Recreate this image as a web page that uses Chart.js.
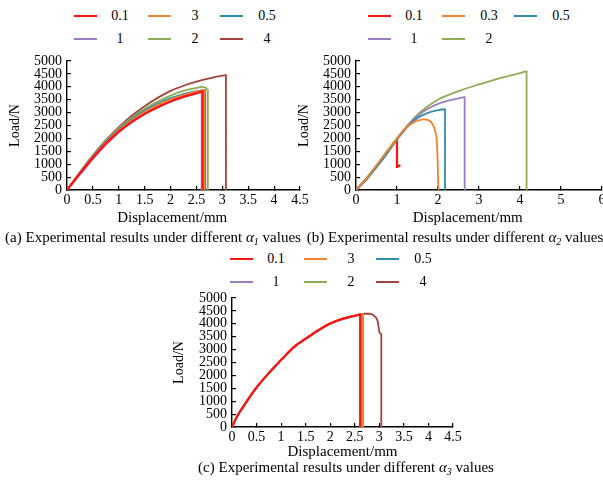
<!DOCTYPE html>
<html>
<head>
<meta charset="utf-8">
<script src="https://cdn.jsdelivr.net/npm/chart.js@4"></script>
<style>
  html, body { margin: 0; padding: 0; background: #fff; }
  #page { position: relative; width: 603px; height: 480px; overflow: hidden; font-family: "Liberation Serif", "Times New Roman", serif; color: #000; }
  canvas { position: absolute; }
  .leg-line { position: absolute; width: 23px; height: 2px; }
  .leg-text { position: absolute; font-size: 14px; line-height: 16px; transform: translateX(-50%); white-space: nowrap; }
  .caption { position: absolute; font-size: 15px; line-height: 18px; transform: translateX(-50%); white-space: nowrap; }
  .caption sub { font-size: 10px; vertical-align: -3px; line-height: 0; }
</style>
</head>
<body>
<div id="page">
  <canvas id="chart-a" width="312" height="178" style="left:0px; top:50px;"></canvas>
  <canvas id="chart-b" width="309" height="178" style="left:294px; top:50px;"></canvas>
  <canvas id="chart-c" width="300" height="175" style="left:165px; top:287px;"></canvas>
  <div id="legends"></div>
  <div class="caption" style="left:153px; top:228px;">(a) Experimental results under different <i>α<sub>1</sub></i> values</div>
  <div class="caption" style="left:455px; top:228px;">(b) Experimental results under different <i>α<sub>2</sub></i> values</div>
  <div class="caption" style="left:346px; top:458px;">(c) Experimental results under different <i>α<sub>3</sub></i> values</div>
</div>
<script>
// --- Data (displacement mm, load N) ---
const LOAD_TICK_MAX = 5000;
const LOAD_TICK_STEP = 500;

// (a) alpha1
const A1_LABELS = ['0.1', '3', '0.5', '1', '2', '4'];
const A1_01 = [[0,0],[0.25,640],[0.5,1250],[0.75,1800],[1,2260],[1.25,2640],[1.5,2950],[1.75,3210],[2,3430],[2.25,3610],[2.5,3750],[2.62,3820],[2.62,0]];
const A1_3  = [[0,0],[0.25,660],[0.5,1280],[0.75,1840],[1,2310],[1.25,2700],[1.5,3020],[1.75,3290],[2,3510],[2.25,3680],[2.5,3810],[2.65,3870],[2.65,0]];
const A1_05 = [[0,0],[0.25,670],[0.5,1300],[0.75,1870],[1,2350],[1.25,2750],[1.5,3080],[1.75,3350],[2,3560],[2.25,3720],[2.5,3830],[2.67,3870],[2.67,0]];
const A1_1  = [[0,0],[0.25,600],[0.5,1200],[0.75,1750],[1,2230],[1.25,2620],[1.5,2940],[1.75,3200],[2,3430],[2.25,3610],[2.5,3740],[2.6,3790],[2.6,0]];
const A1_2  = [[0,0],[0.25,680],[0.5,1320],[0.75,1900],[1,2400],[1.25,2810],[1.5,3150],[1.75,3430],[2,3660],[2.25,3840],[2.5,3960],[2.62,4000],[2.68,3960],[2.72,3880],[2.72,0]];
const A1_4  = [[0,0],[0.25,690],[0.5,1340],[0.75,1930],[1,2440],[1.25,2880],[1.5,3250],[1.75,3570],[2,3840],[2.25,4040],[2.5,4200],[2.75,4330],[3,4430],[3.07,4450],[3.07,0]];
const A1_X_TICK_MAX = 4.5;

// (b) alpha2
const A2_LABELS = ['0.1', '0.3', '0.5', '1', '2'];
const A2_01 = [[0,0],[0.25,420],[0.5,910],[0.75,1430],[0.95,1870],[1.0,1950],[1.0,900],[1.04,920],[1.08,970]];
const A2_03 = [[0,0],[0.25,440],[0.5,950],[0.75,1480],[1,1990],[1.1,2200],[1.25,2450],[1.4,2620],[1.55,2710],[1.65,2740],[1.75,2720],[1.85,2600],[1.92,2350],[1.97,1900],[1.99,1200],[2.0,500],[2.01,0]];
const A2_05 = [[0,0],[0.25,400],[0.5,880],[0.75,1400],[1,1950],[1.25,2440],[1.5,2790],[1.75,2990],[2,3100],[2.17,3130],[2.17,0]];
const A2_1  = [[0,0],[0.25,430],[0.5,930],[0.75,1460],[1,1990],[1.25,2470],[1.5,2870],[1.75,3150],[2,3340],[2.25,3460],[2.5,3550],[2.65,3600],[2.65,0]];
const A2_2  = [[0,0],[0.25,450],[0.5,960],[0.75,1490],[1,2010],[1.25,2500],[1.5,2920],[1.75,3250],[2,3500],[2.5,3830],[3,4090],[3.5,4330],[4,4530],[4.16,4600],[4.16,0]];
const A2_X_TICK_MAX = 6;

// (c) alpha3
const A3_LABELS = ['0.1', '3', '0.5', '1', '2', '4'];
const A3_RISE = [[0,0],[0.1,400],[0.25,850],[0.5,1530],[0.75,2090],[1,2600],[1.1,2800],[1.2,2990],[1.3,3160],[1.5,3420],[1.75,3740],[2,4010],[2.25,4190],[2.5,4310]];
const A3_01 = [...A3_RISE, [2.61,4360],[2.61,0]];
const A3_3  = [...A3_RISE, [2.65,4370],[2.65,0]];
const A3_05 = [...A3_RISE, [2.63,4365],[2.63,0]];
const A3_1  = [...A3_RISE, [2.62,4360],[2.62,0]];
const A3_2  = [...A3_RISE, [2.67,4375],[2.67,0]];
const A3_4  = [...A3_RISE, [2.62,4360],[2.7,4390],[2.8,4390],[2.9,4300],[2.97,4080],[3.0,3680],[3.04,3600],[3.04,0]];
const A3_X_TICK_MAX = 4.5;

const SERIES_COLORS_6 = ['#ff1212', '#f0832f', '#318daf', '#9a7cc2', '#8eac55', '#a5423c'];

// --- Chart builder ---
const FONT = '"Liberation Serif", "Times New Roman", serif';

function buildChart(id, series, labels, xMax, box) {
  const ctx = document.getElementById(id);
  const datasets = series.map((pts, i) => ({
    label: labels[i],
    data: pts.map(p => ({ x: p[0], y: p[1] })),
    borderColor: SERIES_COLORS_6[i],
    borderWidth: i === 0 ? 2.2 : 1.8,
    pointRadius: 0,
    fill: false,
    cubicInterpolationMode: 'monotone',
    order: (box.redUnder && i === 0) ? 1 : 0,
  }));
  return new Chart(ctx, {
    type: 'line',
    data: { datasets },
    options: {
      responsive: false,
      animation: false,
      layout: { padding: { top: 11, right: box.padRight, bottom: 0, left: 0 } },
      plugins: { legend: { display: false }, tooltip: { enabled: false } },
      scales: {
        x: {
          type: 'linear', min: 0, max: xMax,
          ticks: { stepSize: xMax > 5 ? 1 : 0.5, autoSkip: false, maxRotation: 0, color: '#000', padding: 6, font: { family: FONT, size: 14 }, callback: v => String(v) },
          grid: { drawOnChartArea: false, tickLength: -4, color: '#000', lineWidth: 1.2 },
          border: { color: '#000', width: 1.4 },
          // trailing spaces nudge the centred title left, like the original
          title: { display: true, text: 'Displacement/mm' + box.titleTail, color: '#000', font: { family: FONT, size: 15 }, padding: { top: 0, bottom: 1 } },
          afterFit: s => { s.height = box.xH; s.paddingLeft = 0; s.paddingRight = 0; },
        },
        y: {
          type: 'linear', min: 0, max: LOAD_TICK_MAX,
          ticks: { stepSize: LOAD_TICK_STEP, autoSkip: false, color: '#000', padding: 9, font: { family: FONT, size: 14 }, callback: v => String(v) },
          grid: { drawOnChartArea: false, tickLength: -4, color: '#000', lineWidth: 1.2 },
          border: { color: '#000', width: 1.4 },
          title: { display: true, text: 'Load/N', color: '#000', font: { family: FONT, size: 14 }, padding: { top: box.yTitlePad, bottom: 0 } },
          afterFit: s => { s.width = box.yW; s.paddingTop = 0; s.paddingBottom = 0; },
        },
      },
    },
  });
}

buildChart('chart-a', [A1_01, A1_3, A1_05, A1_1, A1_2, A1_4], A1_LABELS, A1_X_TICK_MAX, { yW: 67, xH: 38, padRight: 12, yTitlePad: 6.6, titleTail: '      ' });
buildChart('chart-b', [A2_01, A2_03, A2_05, A2_1, A2_2], A2_LABELS, A2_X_TICK_MAX, { yW: 62, xH: 38, padRight: 1, yTitlePad: 1.6, titleTail: '      ', redUnder: true });
buildChart('chart-c', [A3_01, A3_3, A3_05, A3_1, A3_2, A3_4], A3_LABELS, A3_X_TICK_MAX, { yW: 67, xH: 35, padRight: 12, yTitlePad: 5.6, titleTail: '' });

// --- Legends (HTML, 3 columns x 2 rows) ---
function buildLegend(labels, lineX, textX, rowY) {
  const host = document.getElementById('legends');
  labels.forEach((lab, i) => {
    const col = i % 3, row = Math.floor(i / 3);
    const line = document.createElement('div');
    line.className = 'leg-line';
    line.style.left = lineX[col] + 'px';
    line.style.top = (rowY[row] - 1) + 'px';
    line.style.background = SERIES_COLORS_6[i];
    host.appendChild(line);
    const txt = document.createElement('div');
    txt.className = 'leg-text';
    txt.textContent = lab;
    txt.style.left = textX[col] + 'px';
    txt.style.top = (rowY[row] - 8) + 'px';
    host.appendChild(txt);
  });
}

buildLegend(A1_LABELS, [74, 148, 220], [120, 195, 267], [16, 39]);
buildLegend(A2_LABELS, [368, 442, 514], [414, 489, 561], [16, 39]);
buildLegend(A3_LABELS, [230, 304, 376], [276, 351, 423], [259, 282]);
</script>
</body>
</html>
